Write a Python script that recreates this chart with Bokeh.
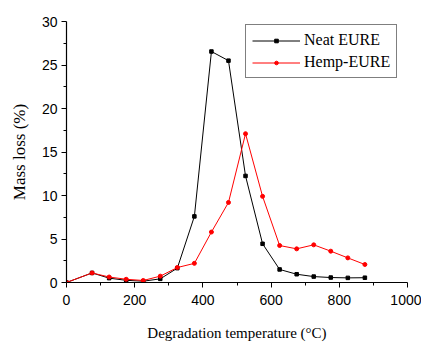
from bokeh.plotting import figure
from bokeh.models import Range1d, FixedTicker, Legend, LegendItem
from bokeh.embed import file_html
from bokeh.resources import INLINE

temperature = [0, 75, 125, 175, 225, 275, 325, 375, 425, 475, 525, 575, 625, 675, 725, 775, 825, 875]
neat_eure = [0, 1.1, 0.5, 0.25, 0.15, 0.42, 1.65, 7.6, 26.55, 25.5, 12.25, 4.45, 1.5, 0.95, 0.68, 0.57, 0.53, 0.55]
hemp_eure = [0, 1.1, 0.63, 0.37, 0.23, 0.73, 1.72, 2.2, 5.8, 9.2, 17.1, 9.9, 4.25, 3.87, 4.33, 3.6, 2.83, 2.07]
x_ticks = [0, 200, 400, 600, 800, 1000]
y_ticks = [0, 5, 10, 15, 20, 25, 30]

p = figure(width=421, height=343, output_backend="svg", toolbar_location=None,
           x_range=Range1d(0, 1000), y_range=Range1d(0, 30),
           frame_width=341, frame_height=261,
           min_border_left=66, min_border_right=14, min_border_top=21, min_border_bottom=61)
p.outline_line_color = None
p.xgrid.visible = False
p.ygrid.visible = False
p.background_fill_color = "white"
p.border_fill_color = "white"

p.xaxis.ticker = FixedTicker(ticks=x_ticks, minor_ticks=[100, 300, 500, 700, 900])
p.yaxis.ticker = FixedTicker(ticks=y_ticks, minor_ticks=[2.5, 7.5, 12.5, 17.5, 22.5, 27.5])
for ax in (p.xaxis, p.yaxis):
    ax.major_label_text_font = "Liberation Sans"
    ax.major_label_text_font_size = "14px"
    ax.major_label_text_color = "black"
    ax.axis_line_color = "black"
    ax.axis_line_width = 1.2
    ax.major_tick_line_color = "black"
    ax.minor_tick_line_color = "black"
    ax.major_tick_in = 0
    ax.major_tick_out = 5
    ax.minor_tick_in = 0
    ax.minor_tick_out = 3
    ax.axis_label_text_font = "Liberation Serif"
    ax.axis_label_text_font_style = "normal"
    ax.axis_label_text_color = "black"
p.xaxis.axis_label = "Degradation temperature (\u00b0C)"
p.yaxis.axis_label = "Mass loss (%)"
p.xaxis.axis_label_text_font_size = "15px"
p.yaxis.axis_label_text_font_size = "17px"
p.xaxis.axis_label_standoff = 17
p.yaxis.axis_label_standoff = 10
p.xaxis.major_label_standoff = 7
p.yaxis.major_label_standoff = 4

l1 = p.line(temperature, neat_eure, line_color="black", line_width=1)
m1 = p.scatter(temperature, neat_eure, marker="square", size=3.5, fill_color="black", line_color="black")
l2 = p.line(temperature, hemp_eure, line_color="red", line_width=1)
m2 = p.scatter(temperature, hemp_eure, marker="circle", size=4, fill_color="red", line_color="red")

legend = Legend(items=[LegendItem(label="Neat EURE", renderers=[l1, m1]),
                       LegendItem(label="Hemp-EURE", renderers=[l2, m2])],
                location=(179, 204))
legend.label_text_font = "Liberation Serif"
legend.label_text_font_size = "16px"
legend.label_text_color = "black"
legend.border_line_color = "black"
legend.border_line_width = 1
legend.margin = 0
legend.padding = 6
legend.spacing = 4
legend.glyph_width = 48
legend.glyph_height = 9
legend.label_height = 18
legend.label_width = 0
legend.label_standoff = 4
legend.background_fill_alpha = 1
p.add_layout(legend)

open("out.html", "w").write(file_html(p, INLINE))
